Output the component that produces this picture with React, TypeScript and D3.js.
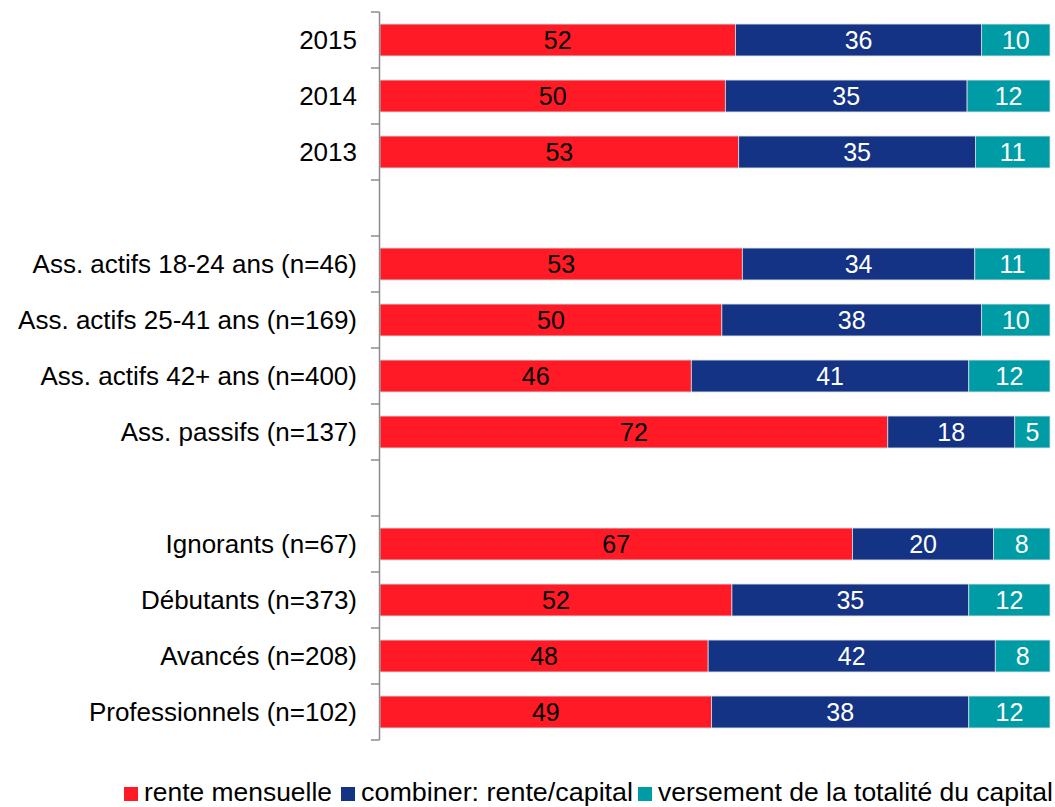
import React from "react";
import * as d3 from "d3";

const categories = [
  "2015",
  "2014",
  "2013",
  "",
  "Ass. actifs 18-24 ans (n=46)",
  "Ass. actifs 25-41 ans (n=169)",
  "Ass. actifs 42+ ans (n=400)",
  "Ass. passifs (n=137)",
  "",
  "Ignorants (n=67)",
  "Débutants (n=373)",
  "Avancés (n=208)",
  "Professionnels (n=102)",
];
const renteMensuelle = [52, 50, 53, null, 53, 50, 46, 72, null, 67, 52, 48, 49];
const combiner = [36, 35, 35, null, 34, 38, 41, 18, null, 20, 35, 42, 38];
const versement = [10, 12, 11, null, 11, 10, 12, 5, null, 8, 12, 8, 12];

const seriesNames = ["rente mensuelle", "combiner: rente/capital", "versement de la totalité du capital"];
const seriesColors = ["#ff1a25", "#143385", "#009ca6"];
const labelColors = ["#000000", "#ffffff", "#ffffff"];

const W = 1055;
const H = 807;
const axisX = 379.5;
const barLeft = 380;
const barRight = 1050;
const top = 12;
const bottom = 740;

export default function App() {
  const idx = categories.map((_, i) => i);
  const y = d3.scaleBand<number>().domain(idx).range([top, bottom]).paddingInner(0.43).paddingOuter(0.215);
  const yOuter = d3.scaleBand<number>().domain(idx).range([top, bottom]);
  const x = d3.scaleLinear().domain([0, 1]).range([barLeft, barRight]);
  const series = [renteMensuelle, combiner, versement];

  const font = "'Liberation Sans', Arial, sans-serif";
  const ticks = d3.range(categories.length + 1).map((i) => top + i * yOuter.step());

  const legendSquares = [124, 341, 638];
  const legendWidths = [188, 272, 395];

  return (
    <svg width={W} height={H} style={{ position: "absolute", left: 0, top: 0 }}>
      <rect width={W} height={H} fill="#fff" />
      {idx.map((i) => {
        if (renteMensuelle[i] == null) return null;
        const vals = series.map((s) => s[i] as number);
        const total = d3.sum(vals);
        let acc = 0;
        return (
          <g key={i}>
            {vals.map((v, k) => {
              const x0 = x(acc / total);
              acc += v;
              const x1 = x(acc / total);
              return (
                <g key={k}>
                  <rect x={x0} y={y(i)} width={x1 - x0} height={y.bandwidth()} fill={seriesColors[k]} stroke="#d5dbe6" strokeWidth={0.8} />
                  <text x={(x0 + x1) / 2} y={(y(i) as number) + y.bandwidth() / 2} dy="0.36em" textAnchor="middle" fontFamily={font} fontSize={25} fill={labelColors[k]}>
                    {v}
                  </text>
                </g>
              );
            })}
          </g>
        );
      })}
      <line x1={axisX} x2={axisX} y1={top} y2={bottom} stroke="#8c8c8c" strokeWidth={1.5} />
      {ticks.map((t, i) => (
        <line key={i} x1={371} x2={axisX} y1={t} y2={t} stroke="#8c8c8c" strokeWidth={1.5} />
      ))}
      {idx.map((i) =>
        categories[i] ? (
          <text key={i} x={357} y={(yOuter(i) as number) + yOuter.bandwidth() / 2} dy="0.36em" textAnchor="end" fontFamily={font} fontSize={26} fill="#000">
            {categories[i]}
          </text>
        ) : null
      )}
      <g>
        {seriesNames.map((n, k) => (
          <g key={k}>
            <rect x={legendSquares[k]} y={787} width={14} height={14} fill={seriesColors[k]} />
            <text x={legendSquares[k] + 20} y={801} fontFamily={font} fontSize={25} fill="#000" textLength={legendWidths[k]} lengthAdjust="spacingAndGlyphs">
              {n}
            </text>
          </g>
        ))}
      </g>
    </svg>
  );
}
